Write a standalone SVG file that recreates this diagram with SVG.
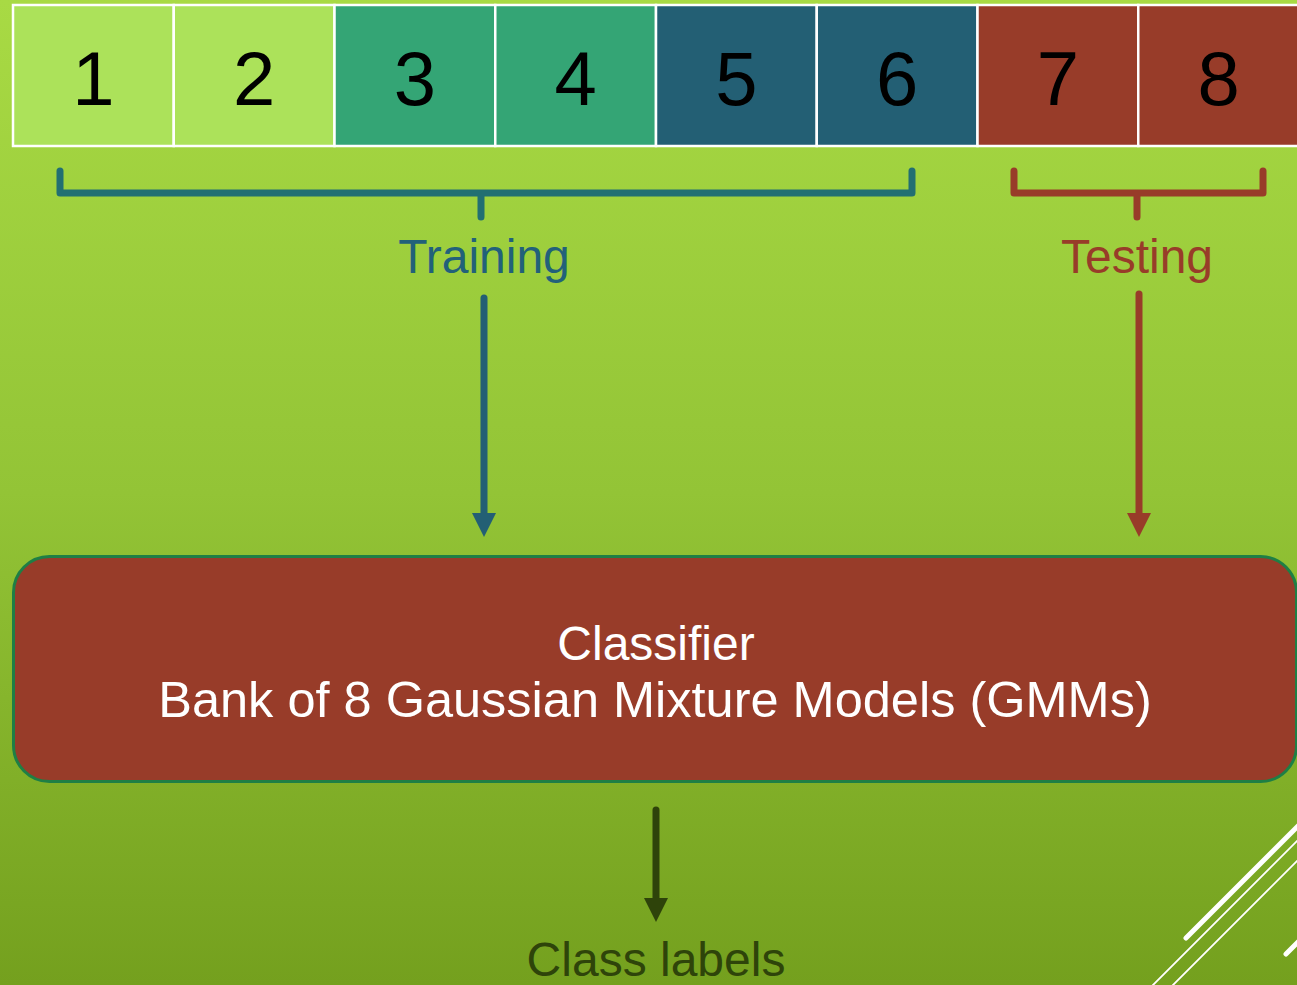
<svg xmlns="http://www.w3.org/2000/svg" width="1297" height="985" viewBox="0 0 1297 985">
<defs>
<linearGradient id="bg" x1="0" y1="0" x2="0" y2="1">
<stop offset="0" stop-color="#A8DA44"/>
<stop offset="0.5" stop-color="#93C436"/>
<stop offset="1" stop-color="#74A01E"/>
</linearGradient>
<marker id="ahBlue" markerUnits="userSpaceOnUse" markerWidth="24" markerHeight="24" refX="12" refY="0" orient="0" viewBox="0 0 24 24"><path d="M0,0 L24,0 L12,24 Z" fill="#235F74"/></marker>
<marker id="ahRed" markerUnits="userSpaceOnUse" markerWidth="24" markerHeight="24" refX="12" refY="0" orient="0" viewBox="0 0 24 24"><path d="M0,0 L24,0 L12,24 Z" fill="#983C29"/></marker>
<marker id="ahDark" markerUnits="userSpaceOnUse" markerWidth="24" markerHeight="24" refX="12" refY="0" orient="0" viewBox="0 0 24 24"><path d="M0,0 L24,0 L12,24 Z" fill="#2E430A"/></marker>
</defs>
<style>
.cell{stroke:#FFFFFF;stroke-width:2.5}
.c1{fill:#ACE25A}.c2{fill:#34A575}.c3{fill:#235F74}.c4{fill:#983C29}
.num{font-family:"Liberation Sans",Arial,sans-serif;font-size:76px;fill:#000000;text-anchor:middle}
.lbl{font-family:"Liberation Sans",Arial,sans-serif;font-size:48px;text-anchor:middle}
.big{font-size:50.5px}
.brk{fill:none;stroke-width:7;stroke-linecap:round;stroke-linejoin:round}
.arr{fill:none;stroke-width:7;stroke-linecap:round}
.deco{stroke:#FFFFFF;fill:none;stroke-linecap:round}
</style>
<rect x="0" y="0" width="1297" height="985" fill="url(#bg)"/>
<g id="deco">
<line class="deco" x1="1186" y1="938" x2="1300" y2="824" stroke-width="5"/>
<line class="deco" x1="1152" y1="986" x2="1300" y2="838" stroke-width="1.8"/>
<line class="deco" x1="1172" y1="986" x2="1300" y2="858" stroke-width="1.8"/>
<line class="deco" x1="1286" y1="954" x2="1300" y2="940" stroke-width="5"/>
</g>
<g id="cells">
<g id="cell1"><rect class="cell c1" x="13" y="5" width="160.75" height="141"/><text class="num" x="93.4" y="105">1</text></g>
<g id="cell2"><rect class="cell c1" x="173.75" y="5" width="160.75" height="141"/><text class="num" x="254.1" y="105">2</text></g>
<g id="cell3"><rect class="cell c2" x="334.5" y="5" width="160.75" height="141"/><text class="num" x="414.9" y="105">3</text></g>
<g id="cell4"><rect class="cell c2" x="495.25" y="5" width="160.75" height="141"/><text class="num" x="575.6" y="105">4</text></g>
<g id="cell5"><rect class="cell c3" x="656" y="5" width="160.75" height="141"/><text class="num" x="736.4" y="105">5</text></g>
<g id="cell6"><rect class="cell c3" x="816.75" y="5" width="160.75" height="141"/><text class="num" x="897.1" y="105">6</text></g>
<g id="cell7"><rect class="cell c4" x="977.5" y="5" width="160.75" height="141"/><text class="num" x="1057.9" y="105">7</text></g>
<g id="cell8"><rect class="cell c4" x="1138.25" y="5" width="160.75" height="141"/><text class="num" x="1218.6" y="105">8</text></g>
</g>
<g id="training">
<path class="brk" stroke="#226F72" d="M60,171 V193 H912 V171 M481,193 V217"/>
<text class="lbl" x="484" y="273" fill="#22617A">Training</text>
</g>
<g id="testing">
<path class="brk" stroke="#983C29" d="M1014,171 V193 H1263 V171 M1137,193 V217"/>
<text class="lbl" x="1137" y="273" fill="#983C29">Testing</text>
</g>
<g id="classifier">
<rect x="13.5" y="556.5" width="1283" height="225" rx="36" ry="36" fill="#983C29" stroke="#1E7F45" stroke-width="3"/>
<text class="lbl" x="656" y="660" fill="#FFFFFF">Classifier</text>
<text class="lbl big" x="655" y="717" fill="#FFFFFF">Bank of 8 Gaussian Mixture Models (GMMs)</text>
</g>
<g id="output">
<text class="lbl" x="656" y="976" fill="#2E440A">Class labels</text>
</g>
<g id="connectors">
<line class="arr" stroke="#235F74" x1="484" y1="298" x2="484" y2="513" marker-end="url(#ahBlue)"/>
<line class="arr" stroke="#983C29" x1="1139" y1="294" x2="1139" y2="513" marker-end="url(#ahRed)"/>
<line class="arr" stroke="#2E430A" x1="656" y1="810" x2="656" y2="898" marker-end="url(#ahDark)"/>
</g>
</svg>
